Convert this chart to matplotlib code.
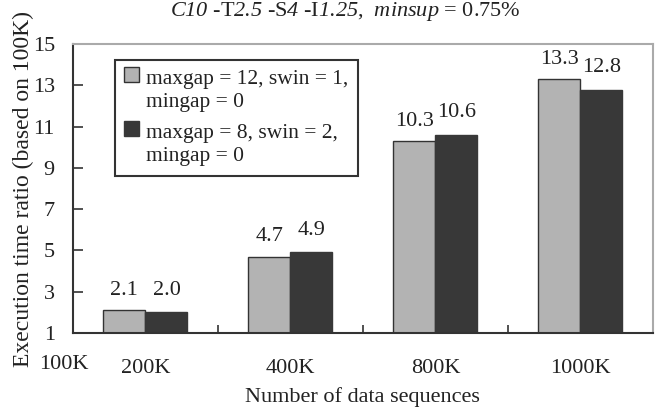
import numpy as np
import matplotlib
matplotlib.use("Agg")
import matplotlib.pyplot as plt
from matplotlib.patches import Rectangle
from matplotlib.container import BarContainer
from matplotlib.legend_handler import HandlerPatch

plt.rcParams['font.family'] = ['Liberation Serif', 'DejaVu Serif']
# math is only used for the italic bits of the title, digits included
plt.rcParams['mathtext.fontset'] = 'custom'
plt.rcParams['mathtext.rm'] = 'Liberation Serif:italic'
plt.rcParams['mathtext.it'] = 'Liberation Serif:italic'

# data
sizes = ['200K', '400K', '800K', '1000K']
series_a = [2.1, 4.7, 10.3, 13.3]   # maxgap = 12, swin = 1, mingap = 0
series_b = [2.0, 4.9, 10.6, 12.8]   # maxgap = 8, swin = 2, mingap = 0
label_a = 'maxgap = 12, swin = 1,\nmingap = 0'
label_b = 'maxgap = 8, swin = 2,\nmingap = 0'
yticks = [1, 3, 5, 7, 9, 11, 13, 15]

light = '#b3b3b3'
dark = '#383838'
text_col = '#222222'


def first_line_box(legend, orig_handle, xdescent, ydescent, width, height, fontsize):
    # put the legend square next to the first line of a two-line label
    return Rectangle((-xdescent, -ydescent + 0.72 * fontsize), width, height)


def copy_bar_style(legend_handle, orig_handle):
    legend_handle.update_from(orig_handle.patches[0])


fig = plt.figure(figsize=(6.69, 4.09), dpi=100)
ax = fig.add_axes([0.109, 0.186, 0.867, 0.706])

x = np.arange(len(sizes))
w = 0.29
base = 1
ax.bar(x - w / 2, np.array(series_a) - base, w, bottom=base, color=light,
       edgecolor='#333333', linewidth=1.0, label=label_a, zorder=2)
ax.bar(x + w / 2, np.array(series_b) - base, w, bottom=base, color=dark,
       edgecolor=dark, linewidth=1.0, label=label_b, zorder=2)

for xi, v in zip(x - w / 2, series_a):
    ax.annotate(f'{v:.1f}', (xi, v), xytext=(0, 20), textcoords='offset pixels',
                ha='center', va='center', fontsize=16, color=text_col)
for xi, v in zip(x + w / 2, series_b):
    ax.annotate(f'{v:.1f}', (xi, v), xytext=(0, 22), textcoords='offset pixels',
                ha='center', va='center', fontsize=16, color=text_col)

ax.set_xlim(-0.5, len(sizes) - 0.5)
ax.set_ylim(1, 15)
ax.set_yticks(yticks)
ax.set_xticks(x)
ax.set_xticklabels(sizes)
ax.set_xticks(np.arange(len(sizes) - 1) + 0.5, minor=True)
ax.tick_params(axis='x', which='major', length=0, pad=19, labelsize=16, labelcolor=text_col)
ax.tick_params(axis='x', which='minor', direction='in', length=6, width=1.2, color='#333333')
ax.tick_params(axis='y', direction='in', length=7, width=1.2, color='#333333',
               pad=13, labelsize=16, labelcolor=text_col)

for side in ['left', 'bottom']:
    ax.spines[side].set_color('#333333')
    ax.spines[side].set_linewidth(1.5)
for side in ['top', 'right']:
    ax.spines[side].set_color('#aaaaaa')
    ax.spines[side].set_linewidth(1.5)

ax.annotate('100K', (0, 0), xycoords='axes fraction', xytext=(-9, -32),
            textcoords='offset pixels', ha='center', va='center',
            fontsize=16, color=text_col)

ax.set_xlabel('Number of data sequences', fontsize=16, color=text_col, labelpad=6)
ax.set_ylabel('Execution time ratio (based on 100K)', fontsize=17, color=text_col, labelpad=-1)

fig.text(0.516, 0.971,
         r'$C10$ -T$2.5$ -S$4$ -I$1.25$,  $minsup$ = 0.75%',
         fontsize=16, color=text_col, ha='center', va='center')

handler = HandlerPatch(patch_func=first_line_box, update_func=copy_bar_style)
leg = ax.legend(loc='upper left', bbox_to_anchor=(0.072, 0.945), fontsize=15.5,
                frameon=True, fancybox=False, framealpha=1, edgecolor='#333333',
                handlelength=0.7, handleheight=0.7, handletextpad=0.3,
                borderpad=0.45, labelspacing=0.55, borderaxespad=0,
                handler_map={BarContainer: handler})
leg.get_frame().set_linewidth(1.5)
for t in leg.get_texts():
    t.set_color(text_col)
    t.set_linespacing(1.3)

fig.savefig('out.png', dpi=100)
